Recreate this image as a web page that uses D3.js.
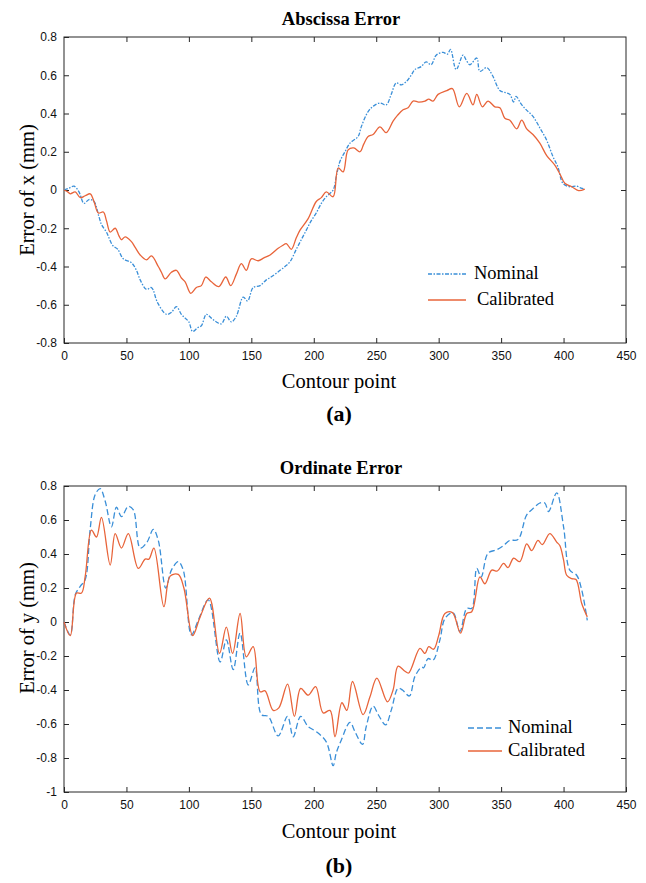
<!DOCTYPE html>
<html><head><meta charset="utf-8">
<script src="https://cdn.jsdelivr.net/npm/d3@7"></script>
<style>body{margin:0;background:#fff}svg{display:block}</style>
</head><body>
<svg id="c" width="646" height="883"></svg>
<script>
// ---- data ----
const xTicks = [0,50,100,150,200,250,300,350,400,450];
const yTicksA = [-0.8,-0.6,-0.4,-0.2,0,0.2,0.4,0.6,0.8];
const yTicksB = [-1,-0.8,-0.6,-0.4,-0.2,0,0.2,0.4,0.6,0.8];
const seriesNames = ["Nominal","Calibrated"];

const xNomA = [0,4,8,12,16,20,24,28,30,34,39,43,47.5,54,58,61,66,70,75,82,86,90,94,97,100,103,107,110,114,118,122,126,130,134,138,143.5,147,151.5,157,162,167,173,177,181,186,190,194,198,202,206,210,215.5,218,221,225,229,235.5,238,243.5,248,253,258,262,266,270,274,278,281,286,290,294,298,303.5,307,309.5,314,319.5,322,325,330.5,333,338.5,343,349,353,357,360,362,366,370,375.5,381,386.5,391.5,395.5,399.5,405,410.5,414,417];
const yNomA = [0,0.01,0.02,-0.01,-0.07,-0.05,-0.06,-0.14,-0.18,-0.22,-0.29,-0.31,-0.36,-0.38,-0.42,-0.47,-0.52,-0.51,-0.59,-0.65,-0.64,-0.61,-0.65,-0.67,-0.69,-0.74,-0.72,-0.71,-0.65,-0.67,-0.69,-0.70,-0.66,-0.69,-0.66,-0.56,-0.58,-0.51,-0.50,-0.47,-0.45,-0.42,-0.40,-0.375,-0.31,-0.26,-0.21,-0.16,-0.12,-0.07,-0.035,0.0,0.07,0.15,0.20,0.245,0.28,0.33,0.41,0.44,0.455,0.445,0.50,0.56,0.55,0.566,0.60,0.63,0.645,0.67,0.655,0.705,0.72,0.71,0.735,0.63,0.705,0.68,0.655,0.69,0.62,0.64,0.60,0.52,0.51,0.50,0.46,0.49,0.45,0.42,0.385,0.325,0.26,0.175,0.12,0.035,0.017,0.02,0.01,0.005];

const xCalA = [0,3,5,9,13,17,21,24,27.5,31.5,34,37,41,44,46,49,54,57,61,66,70,75.5,78,81,86,90,94,97,101.5,106,110,113.5,118,124,129.5,133.5,138,142,146,150,155.5,160,165,171.5,175,178,182,186,189,195.5,202,206,210,215.5,219.5,223.5,227.5,232,237,240,243.5,247.5,253,258,263.5,267,271.5,275.5,279.5,284,289,292,295.5,299.5,306.5,311,316.5,322.5,327.5,330.5,335,339.5,345,349,353,357,362.5,366.5,370.5,375.5,381,386.5,393,397,401,406.5,412,417];
const yCalA = [0,-0.01,-0.02,-0.01,-0.04,-0.03,-0.02,-0.06,-0.12,-0.115,-0.16,-0.22,-0.20,-0.24,-0.26,-0.245,-0.27,-0.30,-0.34,-0.365,-0.345,-0.40,-0.43,-0.465,-0.43,-0.42,-0.46,-0.48,-0.54,-0.51,-0.50,-0.455,-0.48,-0.505,-0.455,-0.50,-0.44,-0.385,-0.42,-0.36,-0.37,-0.355,-0.34,-0.305,-0.29,-0.28,-0.31,-0.25,-0.21,-0.15,-0.06,-0.04,-0.01,-0.035,0.115,0.095,0.21,0.22,0.20,0.24,0.28,0.29,0.33,0.30,0.36,0.39,0.42,0.43,0.465,0.46,0.465,0.475,0.465,0.50,0.52,0.53,0.435,0.505,0.445,0.50,0.435,0.465,0.435,0.43,0.375,0.365,0.32,0.365,0.32,0.29,0.245,0.18,0.13,0.085,0.035,0.017,-0.003,0.005];

const xNomB = [0,5,9,13,17,21,25,29,33,38,42,46,51.5,55.5,61,66.5,71.5,75.5,81.5,86,91.5,95.5,102,107.5,115.5,125,130,135.5,141,147.5,153,158,163.5,171.5,179,183.5,189.5,195.5,202,210,215.5,218,222,229,233,239,242,247.5,252,257.5,262,267.5,271,276.5,281,286.5,288,291.5,295.5,301,305,311.5,317,322.5,326.5,330.5,334,339.5,346.5,352,357,363.5,370.5,376,381,385,388,394.5,400,405,410.5,414.5,419];
const yNomB = [0,-0.075,0.16,0.21,0.25,0.55,0.75,0.785,0.71,0.56,0.675,0.62,0.68,0.66,0.435,0.47,0.545,0.48,0.20,0.305,0.355,0.305,-0.075,0.01,0.13,-0.235,-0.105,-0.28,-0.065,-0.37,-0.27,-0.545,-0.555,-0.67,-0.555,-0.675,-0.555,-0.615,-0.645,-0.705,-0.845,-0.77,-0.695,-0.59,-0.645,-0.72,-0.615,-0.495,-0.55,-0.605,-0.52,-0.39,-0.40,-0.435,-0.32,-0.265,-0.27,-0.215,-0.225,-0.105,0.02,0.055,-0.055,0.08,0.08,0.315,0.265,0.405,0.425,0.45,0.48,0.485,0.63,0.67,0.70,0.70,0.65,0.76,0.56,0.305,0.275,0.19,0.01];

const xCalB = [0,5,10,14,17,22,26,30,37,41,46,51.5,59.5,65,68,72,80,85,91.5,96,103,109,116.5,124.5,130,135,141,146,151.5,157,161,167.5,172,179,184.5,189.5,195.5,201.5,207.5,213,217,222.5,226.5,231,239.5,245,250.5,259,263.5,267.5,273,276,285,289,292,296,300,305,311,317.5,322.5,326.5,333,337,342.5,347,352,355.5,360,365,370.5,374.5,379.5,383,389,394.5,397,400,402.5,406.5,410,414.5,419];
const yCalB = [0,-0.08,0.17,0.17,0.27,0.54,0.50,0.615,0.335,0.52,0.435,0.52,0.315,0.37,0.37,0.435,0.09,0.27,0.28,0.20,-0.08,0.03,0.14,-0.185,-0.03,-0.185,0.05,-0.205,-0.145,-0.41,-0.405,-0.52,-0.505,-0.365,-0.555,-0.39,-0.43,-0.38,-0.535,-0.52,-0.675,-0.475,-0.52,-0.35,-0.545,-0.44,-0.33,-0.47,-0.40,-0.26,-0.29,-0.30,-0.155,-0.185,-0.145,-0.16,-0.08,0.05,0.055,-0.065,0.05,0.06,0.265,0.225,0.305,0.30,0.345,0.32,0.375,0.355,0.46,0.42,0.48,0.455,0.52,0.47,0.45,0.365,0.275,0.255,0.25,0.11,0.03];

// ---- drawing ----
const svg = d3.select("#c");
const blue = "#3a8fd8", orange = "#e8643a", axisCol = "#262626";
const zip = (xs, ys) => xs.map((x,i)=>[x, ys[i]]);

function panel(o){
  const g = svg.append("g");
  const x = d3.scaleLinear().domain([0,450]).range([64,626]);
  const y = d3.scaleLinear().domain(o.ydom).range([o.bottom,o.top]);
  g.append("rect").attr("x",64).attr("y",o.top).attr("width",562).attr("height",o.bottom-o.top)
    .attr("fill","none").attr("stroke",axisCol).attr("stroke-width",1);
  const tl = 5;
  const fmt = d => String(+(+d).toFixed(2));
  const ax = (gen, tx, ty, ticks) => g.append("g").attr("transform",`translate(${tx},${ty})`)
    .call(gen.tickValues(ticks).tickSizeInner(-tl).tickSizeOuter(0).tickFormat(fmt).tickPadding(7))
    .call(s=>{s.select(".domain").remove(); s.selectAll("line").attr("stroke",axisCol);
      s.selectAll("text").attr("font-family","'Liberation Sans',Arial,sans-serif").attr("font-size",12).attr("fill","#111");});
  ax(d3.axisBottom(x), 0, o.bottom, xTicks).selectAll("text").attr("dy","0.85em");
  ax(d3.axisLeft(y), 64, 0, o.yticks);
  ax(d3.axisTop(x), 0, o.top, xTicks.slice(1,-1)).selectAll("text").remove();
  ax(d3.axisRight(y), 626, 0, o.yticks.slice(1,-1)).selectAll("text").remove();
  const line = d3.line().x(d=>x(d[0])).y(d=>y(d[1])).curve(d3.curveCatmullRom.alpha(0.5));
  g.append("path").attr("d",line(zip(o.xN,o.yN))).attr("fill","none").attr("stroke",blue)
    .attr("stroke-width",1.3).attr("stroke-dasharray",o.dash);
  g.append("path").attr("d",line(zip(o.xC,o.yC))).attr("fill","none").attr("stroke",orange)
    .attr("stroke-width",1.3);
  const serif = "'Liberation Serif','Times New Roman',serif";
  g.append("text").attr("x",341).attr("y",o.titleY).attr("text-anchor","middle")
    .attr("font-family",serif).attr("font-weight","bold").attr("font-size",18.5).text(o.title);
  g.append("text").attr("x",339).attr("y",o.xlabY).attr("text-anchor","middle")
    .attr("font-family",serif).attr("font-size",20.5).text("Contour point");
  g.append("text").attr("x",339).attr("y",o.capY).attr("text-anchor","middle")
    .attr("font-family",serif).attr("font-weight","bold").attr("font-size",22).text(o.cap);
  g.append("text").attr("transform",`translate(34,${o.ylabC}) rotate(-90)`).attr("text-anchor","middle")
    .attr("font-family",serif).attr("font-size",20.5).text(o.ylab);
  const L = o.leg;
  [[blue,o.dash],[orange,null]].forEach((c,i)=>{
    const ly = L.y + i*L.dy;
    g.append("line").attr("x1",L.x1).attr("x2",L.x2).attr("y1",ly).attr("y2",ly)
      .attr("stroke",c[0]).attr("stroke-width",1.3).attr("stroke-dasharray",c[1]);
    g.append("text").attr("x",L.tx + (i? L.tdx:0)).attr("y",ly+5).attr("font-family",serif).attr("font-size",18.5)
      .text(seriesNames[i]);
  });
}

panel({top:37,bottom:343,ydom:[-0.8,0.8],yticks:yTicksA,xN:xNomA,yN:yNomA,xC:xCalA,yC:yCalA,
  dash:"4,1.5,1.5,1.5",title:"Abscissa Error",titleY:25,xlabY:388,capY:421,cap:"(a)",ylab:"Error of x (mm)",ylabC:190,
  leg:{x1:428,x2:466,tx:474,tdx:3,y:274,dy:26}});
panel({top:486,bottom:792,ydom:[-1,0.8],yticks:yTicksB,xN:xNomB,yN:yNomB,xC:xCalB,yC:yCalB,
  dash:"6,3",title:"Ordinate Error",titleY:474,xlabY:838,capY:873,cap:"(b)",ylab:"Error of y (mm)",ylabC:628,
  leg:{x1:468,x2:502,tx:508,tdx:0,y:728,dy:23}});
</script>
</body></html>
